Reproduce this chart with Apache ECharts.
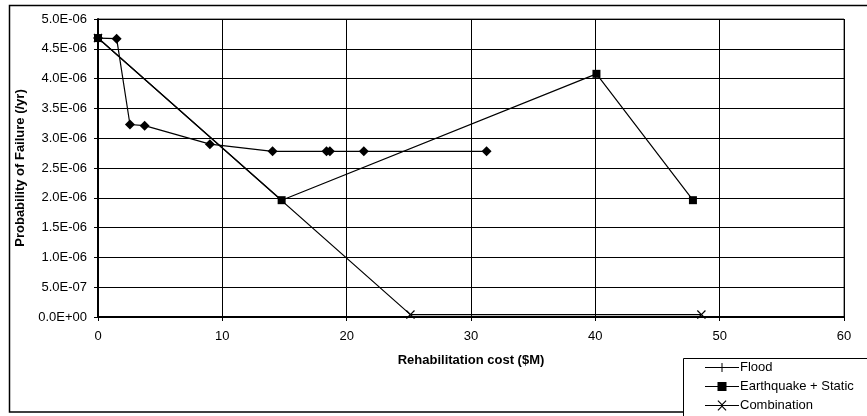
<!DOCTYPE html>
<html>
<head>
<meta charset="utf-8">
<script src="https://cdn.jsdelivr.net/npm/echarts@6/dist/echarts.min.js"></script>
<style>
  html, body { margin: 0; padding: 0; background: #fff; }
  #chart { width: 867px; height: 416px; }
</style>
</head>
<body>
<div id="chart"></div>
<script>
// Rehabilitation cost ($M) vs probability of failure (/yr)
const floodCost = [0, 1.5, 2.57, 3.75, 9.0, 14.04, 18.38, 18.65, 21.38, 31.25];
const floodPf   = [4.68e-6, 4.67e-6, 3.23e-6, 3.21e-6, 2.90e-6, 2.78e-6, 2.78e-6, 2.78e-6, 2.78e-6, 2.78e-6];

const quakeCost = [0, 14.77, 40.09, 47.85];
const quakePf   = [4.68e-6, 1.96e-6, 4.08e-6, 1.96e-6];

const comboCost = [0, 25.13, 48.53];
const comboPf   = [4.68e-6, 4.0e-8, 4.0e-8];

const seriesNames = ['Flood', 'Earthquake + Static', 'Combination'];

const xTicks = { min: 0, max: 60, interval: 10 };
const yTicks = { min: 0, max: 5e-6, interval: 5e-7 };

const pair = (xs, ys) => xs.map((x, i) => [x, ys[i]]);

// Scientific label like 4.5E-06 / 0.0E+00
function sci(v) {
  if (Math.abs(v) < 1e-12) return '0.0E+00';
  let e = Math.floor(Math.log10(Math.abs(v)) + 1e-9);
  let m = v / Math.pow(10, e);
  let ms = m.toFixed(1);
  if (ms === '10.0') { e += 1; ms = '1.0'; }
  const sign = e < 0 ? '-' : '+';
  const ee = String(Math.abs(e)).padStart(2, '0');
  return ms + 'E' + sign + ee;
}

// plot marker: thin X cross
const xMark = 'path://M0,1 L1,0 L5,4 L9,0 L10,1 L6,5 L10,9 L9,10 L5,6 L1,10 L0,9 L4,5 Z';

// legend keys: line segment with the marker in the middle (34 x 12 box)
const keyLine = 'M0,5.5 L34,5.5 L34,6.5 L0,6.5 Z';
const legendIcons = [
  'path://M0,0 L0.01,0 L0.01,0.01 Z ' + keyLine + ' M16.5,1.5 L17.5,1.5 L17.5,10.5 L16.5,10.5 Z M0,12 L0.01,12 L0.01,11.99 Z',
  'path://M0,0 L0.01,0 L0.01,0.01 Z ' + keyLine + ' M12.5,1.5 L21.5,1.5 L21.5,10.5 L12.5,10.5 Z M0,12 L0.01,12 L0.01,11.99 Z',
  'path://M0,0 L0.01,0 L0.01,0.01 Z ' + keyLine +
    ' M12.5,1.5 L13.3,0.7 L17,4.4 L20.7,0.7 L21.5,1.5 L17.8,5.2 L17.8,6.8 L21.5,10.5 L20.7,11.3 L17,7.6 L13.3,11.3 L12.5,10.5 L16.2,6.8 L16.2,5.2 Z M0,12 L0.01,12 L0.01,11.99 Z'
];

const font = 'Liberation Sans, Arial, sans-serif';

const chart = echarts.init(document.getElementById('chart'), null, { renderer: 'canvas' });

const lineBase = {
  type: 'line',
  animation: false,
  lineStyle: { color: '#000', width: 1.2 },
  itemStyle: { color: '#000' },
  emphasis: { disabled: true },
  z: 3
};

chart.setOption({
  backgroundColor: '#fff',
  animation: false,
  textStyle: { fontFamily: font },
  grid: { left: 98, right: 23, top: 19, bottom: 99, show: true, borderColor: '#444', borderWidth: 1 },
  xAxis: {
    type: 'value',
    min: xTicks.min, max: xTicks.max, interval: xTicks.interval,
    name: 'Rehabilitation cost ($M)',
    nameLocation: 'middle',
    nameGap: 37,
    nameTextStyle: { fontFamily: font, fontSize: 13, fontWeight: 'bold', color: '#000' },
    axisLine: { onZero: false, lineStyle: { color: '#000', width: 2 } },
    axisTick: { show: true, length: 4, lineStyle: { color: '#000' } },
    axisLabel: { fontFamily: font, fontSize: 13, color: '#000', margin: 13 },
    splitLine: { show: true, lineStyle: { color: '#000', width: 1 } }
  },
  yAxis: {
    type: 'value',
    min: yTicks.min, max: yTicks.max, interval: yTicks.interval,
    name: 'Probability of Failure (/yr)',
    nameLocation: 'middle',
    nameGap: 66,
    nameRotate: 90,
    nameTextStyle: { fontFamily: font, fontSize: 13, fontWeight: 'bold', color: '#000' },
    axisLine: { show: true, onZero: false, lineStyle: { color: '#000', width: 2 } },
    axisTick: { show: true, length: 4, lineStyle: { color: '#000' } },
    axisLabel: { fontFamily: font, fontSize: 13, color: '#000', margin: 11, formatter: sci },
    splitLine: { show: true, lineStyle: { color: '#000', width: 1 } }
  },
  legend: {
    left: 705,
    top: 361,
    orient: 'vertical',
    padding: 0,
    itemWidth: 34,
    itemHeight: 12,
    itemGap: 6,
    selectedMode: false,
    textStyle: { fontFamily: font, fontSize: 13, color: '#000', padding: [0, 0, 0, -4] },
    data: seriesNames.map((n, i) => ({ name: n, icon: legendIcons[i] }))
  },
  graphic: [
    {
      type: 'rect',
      shape: { x: 9.5, y: 5.5, width: 870, height: 406.5 },
      style: { fill: null, stroke: '#000', lineWidth: 1.5 },
      silent: true, z: -10
    },
    {
      type: 'rect',
      shape: { x: 683.5, y: 358.5, width: 200, height: 70 },
      style: { fill: '#fff', stroke: '#000', lineWidth: 1 },
      silent: true, z: 0
    }
  ],
  series: [
    Object.assign({}, lineBase, {
      name: seriesNames[0],
      data: pair(floodCost, floodPf),
      symbol: 'diamond',
      symbolSize: 10
    }),
    Object.assign({}, lineBase, {
      name: seriesNames[1],
      data: pair(quakeCost, quakePf),
      symbol: 'rect',
      symbolSize: 8
    }),
    Object.assign({}, lineBase, {
      name: seriesNames[2],
      data: pair(comboCost, comboPf),
      symbol: xMark,
      symbolSize: 9
    })
  ]
});
</script>
</body>
</html>
